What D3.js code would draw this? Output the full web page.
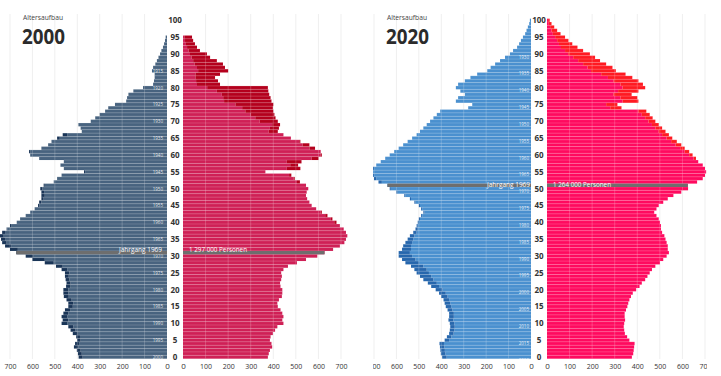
<!DOCTYPE html>
<html><head><meta charset="utf-8">
<script src="https://cdn.jsdelivr.net/npm/d3@7"></script>
<style>body{margin:0;background:#fff}svg{display:block}text{font-family:"Open Sans",sans-serif}</style>
</head><body><svg id="c" width="721" height="376"></svg>
<script>
// ---- data (thousands of persons by age) ----
const ages2000 = d3.range(0, 96);
const male2000 = [394,397,402,415,410,400,405,420,430,440,
470,465,470,462,455,440,440,448,460,462,
462,450,448,452,455,455,470,495,545,600,
630,672,700,722,735,740,745,735,715,700,
670,655,630,610,590,575,570,560,560,560,
565,550,505,490,470,370,460,475,460,570,
610,615,560,530,515,490,465,380,385,395,
340,320,300,276,262,232,182,178,172,150,
107,62,58,55,55,67,62,52,45,38,
31,25,18,13,9,6];
const female2000 = [376,380,385,395,392,385,388,398,408,418,
445,440,445,440,432,420,418,425,438,440,
440,432,430,435,438,435,445,465,505,545,
595,627,665,695,715,722,728,722,712,695,
680,662,640,615,590,570,560,550,545,548,
555,545,518,495,480,365,520,510,525,600,
615,610,585,560,520,478,445,420,425,430,
420,410,405,400,398,400,392,388,382,378,
376,164,155,142,164,200,186,177,150,120,
106,75,62,53,45,40];
const ages2020 = d3.range(0, 101);
const male2020 = [396,402,404,406,408,385,375,365,362,360,
362,368,365,365,372,380,385,390,400,410,
425,445,460,480,495,510,520,535,560,575,
590,590,575,570,560,550,540,525,515,510,
505,500,490,480,490,500,520,540,565,600,
630,640,680,700,710,712,705,690,670,650,
630,610,590,570,550,530,510,495,480,465,
450,435,420,405,280,262,335,325,295,315,
335,325,295,270,240,195,180,160,138,116,
94,80,62,53,45,36,26,20,14,8,5];
const female2020 = [376,382,384,386,388,365,355,345,342,340,
342,346,344,344,350,356,360,365,372,380,
395,410,420,435,445,455,465,480,500,515,
530,540,535,535,530,525,520,510,505,505,
500,495,485,475,485,495,515,535,560,595,
625,624,665,690,700,705,700,690,670,660,
645,630,610,595,575,555,540,525,510,495,
480,468,455,440,330,312,405,400,375,405,
435,425,405,378,348,305,290,262,235,213,
190,160,135,112,95,80,60,45,32,20,12];
const valueTicks = [0,100,200,300,400,500,600,700];
const ageTicks = d3.range(0, 101, 5);
const cohortYear = 1969;
const cohortLabel = "Jahrgang 1969";
const totalLabel2000 = "1 297 000 Personen";
const totalLabel2020 = "1 264 000 Personen";

// ---- layout ----
const svg = d3.select("#c");
const y = d3.scaleLinear().domain([0, 100]).range([357, 20.3]);
const xL = d3.scaleLinear().domain([0, 700]).range([167, 10]);
const xR = d3.scaleLinear().domain([0, 700]).range([183, 341]);
const bh = y(0) - y(1);
const small = '"Liberation Sans",Arial,sans-serif';

function panel(id, offset, clip, year, ages, male, female, col, totalLabel, yearLabelMax, o) {
  const defs = svg.append("defs");
  defs.append("clipPath").attr("id", id).append("rect")
    .attr("x", clip[0]).attr("y", 0).attr("width", clip[1] - clip[0]).attr("height", 376);
  const g = svg.append("g").attr("transform", `translate(${offset},0)`).attr("clip-path", `url(#${id})`);

  const grid = g.append("g");
  valueTicks.slice(1).forEach(v => {
    [xL(v), xR(v)].forEach(x => grid.append("line").attr("x1", x).attr("x2", x)
      .attr("y1", 14).attr("y2", 359).attr("stroke", "#efefef").attr("stroke-width", 1));
  });

  const rows = ages.map((a, i) => ({age: a, m: male[i], f: female[i]}));
  const bars = g.append("g");
  rows.forEach(d => {
    const top = y(d.age) - bh / 2;
    const lo = Math.min(d.m, d.f);
    bars.append("rect").attr("x", xL(lo)).attr("y", top).attr("width", xL(0) - xL(lo)).attr("height", bh)
      .attr("fill", col.m);
    if (d.m > d.f) bars.append("rect").attr("x", xL(d.m)).attr("y", top).attr("width", xL(d.f) - xL(d.m))
      .attr("height", bh).attr("fill", col.md);
    bars.append("rect").attr("x", xR(0)).attr("y", top).attr("width", xR(lo) - xR(0)).attr("height", bh)
      .attr("fill", col.f);
    if (d.f > d.m) bars.append("rect").attr("x", xR(d.m)).attr("y", top).attr("width", xR(d.f) - xR(d.m))
      .attr("height", bh).attr("fill", col.fd);
  });
  rows.forEach(d => {
    const top = y(d.age) - bh / 2;
    bars.append("line").attr("x1", xL(d.m)).attr("x2", xL(0)).attr("y1", top).attr("y2", top)
      .attr("stroke", "#fff").attr("stroke-opacity", 0.28).attr("stroke-width", 0.6);
    bars.append("line").attr("x1", xR(0)).attr("x2", xR(d.f)).attr("y1", top).attr("y2", top)
      .attr("stroke", "#fff").attr("stroke-opacity", 0.28).attr("stroke-width", 0.6);
  });
  rows.forEach(d => {
    const top = y(d.age) - bh / 2;
    valueTicks.slice(1).forEach(v => {
      if (v < d.m) bars.append("line").attr("x1", xL(v)).attr("x2", xL(v)).attr("y1", top).attr("y2", top + bh)
        .attr("stroke", "#fff").attr("stroke-opacity", 0.2);
      if (v < d.f) bars.append("line").attr("x1", xR(v)).attr("x2", xR(v)).attr("y1", top).attr("y2", top + bh)
        .attr("stroke", "#fff").attr("stroke-opacity", 0.2);
    });
  });

  ageTicks.filter(a => a <= yearLabelMax).forEach(a => {
    g.append("text").attr("x", o.yx).attr("y", y(a) + o.yd).attr("text-anchor", "end")
      .attr("font-family", small).attr("font-size", 4.5).attr("fill", "#fff").attr("fill-opacity", 0.85).text(year - a);
  });

  const ca = year - cohortYear;
  const cr = rows.find(d => d.age === ca);
  const ct = y(ca) - bh / 2;
  g.append("rect").attr("x", xL(cr.m)).attr("y", ct).attr("width", xL(0) - xL(cr.m)).attr("height", bh).attr("fill", "#6e6e6e");
  g.append("rect").attr("x", xR(0)).attr("y", ct).attr("width", xR(cr.f) - xR(0)).attr("height", bh).attr("fill", "#6e6e6e");
  g.append("text").attr("x", o.jx).attr("y", y(ca) + o.jd).attr("text-anchor", "end").attr("font-size", 7)
    .attr("font-family", small).attr("fill", "#fff").attr("textLength", 43).attr("lengthAdjust", "spacingAndGlyphs").text(cohortLabel);
  g.append("text").attr("x", 189).attr("y", y(ca) + o.jd).attr("font-size", 7).attr("font-family", small)
    .attr("fill", "#fff").attr("textLength", 58).attr("lengthAdjust", "spacingAndGlyphs").text(totalLabel);

  g.selectAll(".age").data(ageTicks).enter().append("text")
    .attr("x", 175).attr("y", d => y(d) + 3).attr("text-anchor", "middle")
    .attr("font-size", 8).attr("font-weight", 700).attr("fill", "#333").text(d => d);

  [xL, xR].forEach(sc => {
    const ax = g.append("g").attr("transform", "translate(0,363)")
      .call(d3.axisBottom(sc).tickValues(valueTicks).tickSize(0).tickPadding(0));
    ax.select(".domain").remove();
    ax.selectAll("text").attr("font-size", 8).attr("fill", "#333").attr("font-family", '"Open Sans",sans-serif')
      .attr("textLength", 12).attr("lengthAdjust", "spacingAndGlyphs");
    ax.selectAll(".tick").filter(d => d === 0).selectAll("text").attr("textLength", null);
  });

  g.append("text").attr("x", 43).attr("y", 20).attr("text-anchor", "middle").attr("font-size", 7.5)
    .attr("font-family", small).attr("fill", "#444").attr("textLength", 40).attr("lengthAdjust", "spacingAndGlyphs").text("Altersaufbau");
  g.append("text").attr("x", 22).attr("y", 43.5).attr("font-size", 21.5).attr("font-weight", 700)
    .attr("font-family", small).attr("fill", "#2b2b2b").attr("textLength", 43).attr("lengthAdjust", "spacingAndGlyphs").text(year);
}

panel("clipA", 0, [0, 364], 2000, ages2000, male2000, female2000,
  {m: "#48637f", md: "#1a3557", f: "#cf2056", fd: "#b4001d"}, totalLabel2000, 85,
  {yx: 163, yd: 2, jx: 162, jd: -1});
panel("clipB", 364, [9, 343], 2020, ages2020, male2020, female2020,
  {m: "#4a90cf", md: "#2767ad", f: "#ff0a5f", fd: "#ff1a22"}, totalLabel2020, 90,
  {yx: 165, yd: 4.6, jx: 166, jd: 1.3});
</script></body></html>
